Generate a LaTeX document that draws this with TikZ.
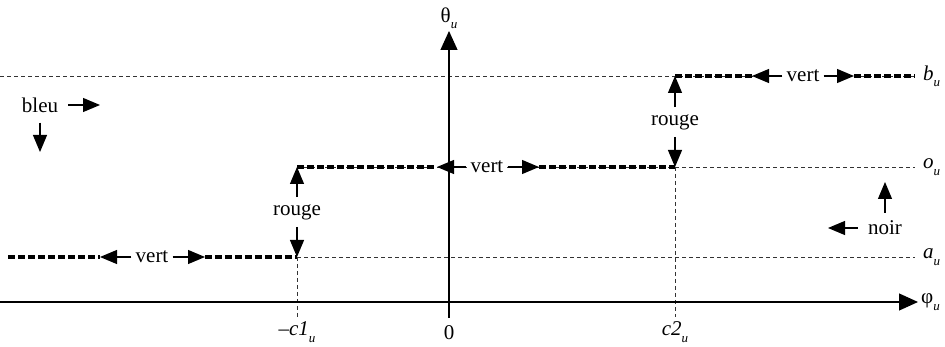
\documentclass[tikz,border=0pt]{standalone}
\usepackage{fontspec}
\setmainfont{Liberation Serif}
\usepackage{tikz}
\usetikzlibrary{
  arrows.meta,
  positioning,
  calc
}
\definecolor{grLine}{HTML}{000000}
\definecolor{grMute}{HTML}{333333}
\newcommand{\lowu}{\raisebox{-0.3em}{\fontsize{13}{13}\selectfont\itshape u}}
\tikzset{
  axisline/.style={-{Triangle[length=19pt, width=17pt]}, line width=1.2pt, grLine},
  levelline/.style={line width=0.8pt, grMute, dash pattern=on 4pt off 3pt},
  stepline/.style={line width=3.3pt, grLine, dash pattern=on 7pt off 3pt},
  tip/.style={-{Triangle[length=17pt, width=14pt]}, line width=1.2pt, grLine},
  lbl/.style={fill=white, inner sep=4pt, font=\fontsize{21}{24}\selectfont},
  tick/.style={font=\fontsize{21}{24}\selectfont, inner sep=1pt},
  legend/.style={font=\fontsize{21}{24}\selectfont, inner sep=4pt}
}
\begin{document}
\begin{tikzpicture}[x=1pt, y=-1pt]
  \useasboundingbox (0,0) rectangle (945,347);
  % levels and thresholds
  \coordinate (a0) at (8,257);   \coordinate (aE) at (915,257);
  \coordinate (b0) at (0,76);    \coordinate (bE) at (915,76);
  \coordinate (oE) at (915,167);
  \coordinate (ac) at (297,257); \coordinate (oc) at (297,167);
  \coordinate (oc2) at (675,167); \coordinate (bc) at (675,76);
  \coordinate (c1low) at (297,317); \coordinate (c2low) at (675,317);

  % thin dashed levels
  \draw[levelline] (b0) -- (bE);
  \draw[levelline] (oc) -- (oE);
  \draw[levelline] (ac) -- (aE);
  \draw[levelline] (ac) -- (c1low);
  \draw[levelline] (oc2) -- (c2low);

  % axes
  \coordinate (xl) at (0,302);   \coordinate (xr) at (918,302);
  \coordinate (yb) at (449,318); \coordinate (yt) at (449,31);
  \draw[axisline] (xl) -- (xr);
  \draw[axisline] (yb) -- (yt);
  \node[tick, right=2pt] (phi) at (xr) {φ\lowu};
  \node[tick, above=1pt] (theta) at (yt) {θ\lowu};

  % bottom step
  \coordinate (a1) at (100,257); \coordinate (a2) at (205,257);
  \draw[stepline] (a0) -- (a1);
  \draw[stepline] (a2) -- (ac);
  \node[lbl] (va) at (152,257) {vert};
  \draw[tip] (va) -- (a1);
  \draw[tip] (va) -- (a2);

  % first jump
  \node[lbl, inner ysep=7pt] (rl) at (297,212) {rouge};
  \draw[tip] (rl) -- (oc);
  \draw[tip] (rl) -- (ac);

  % middle step
  \coordinate (o1) at (437,167); \coordinate (o2) at (539,167);
  \draw[stepline] (oc) -- (o1);
  \draw[stepline] (o2) -- (oc2);
  \node[lbl] (vo) at (487,167) {vert};
  \draw[tip] (vo) -- (o1);
  \draw[tip] (vo) -- (o2);

  % second jump
  \node[lbl, inner ysep=7pt] (rr) at (675,122) {rouge};
  \draw[tip] (rr) -- (bc);
  \draw[tip] (rr) -- (oc2);

  % top step
  \coordinate (b1) at (752,76); \coordinate (b2) at (854,76);
  \draw[stepline] (bc) -- (b1);
  \draw[stepline] (b2) -- (bE);
  \node[lbl] (vb) at (803,76) {vert};
  \draw[tip] (vb) -- (b1);
  \draw[tip] (vb) -- (b2);

  % level names
  \node[tick, anchor=west] (bu) at (922,76) {\itshape b\lowu};
  \node[tick, anchor=west] (ou) at (922,167) {\itshape o\lowu};
  \node[tick, anchor=west] (au) at (922,257) {\itshape a\lowu};

  % threshold names
  \node[tick] (c1) at (297,332) {\itshape –c1\lowu};
  \node[tick] (zero) at (449,333) {0};
  \node[tick] (c2) at (675,332) {\itshape c2\lowu};

  % legends
  \coordinate (bleuE) at (100,105); \coordinate (bleuS) at (40,152);
  \node[legend] (bleu) at (40,105) {bleu};
  \draw[tip, shorten <=6pt] (bleu) -- (bleuE);
  \draw[tip, shorten <=6pt] (bleu) -- (bleuS);
  \coordinate (noirW) at (828,228); \coordinate (noirN) at (885,182);
  \node[legend] (noir) at (885,228) {noir};
  \draw[tip, shorten <=6pt] (noir) -- (noirW);
  \draw[tip, shorten <=4pt] (noir) -- (noirN);
\end{tikzpicture}
\end{document}
